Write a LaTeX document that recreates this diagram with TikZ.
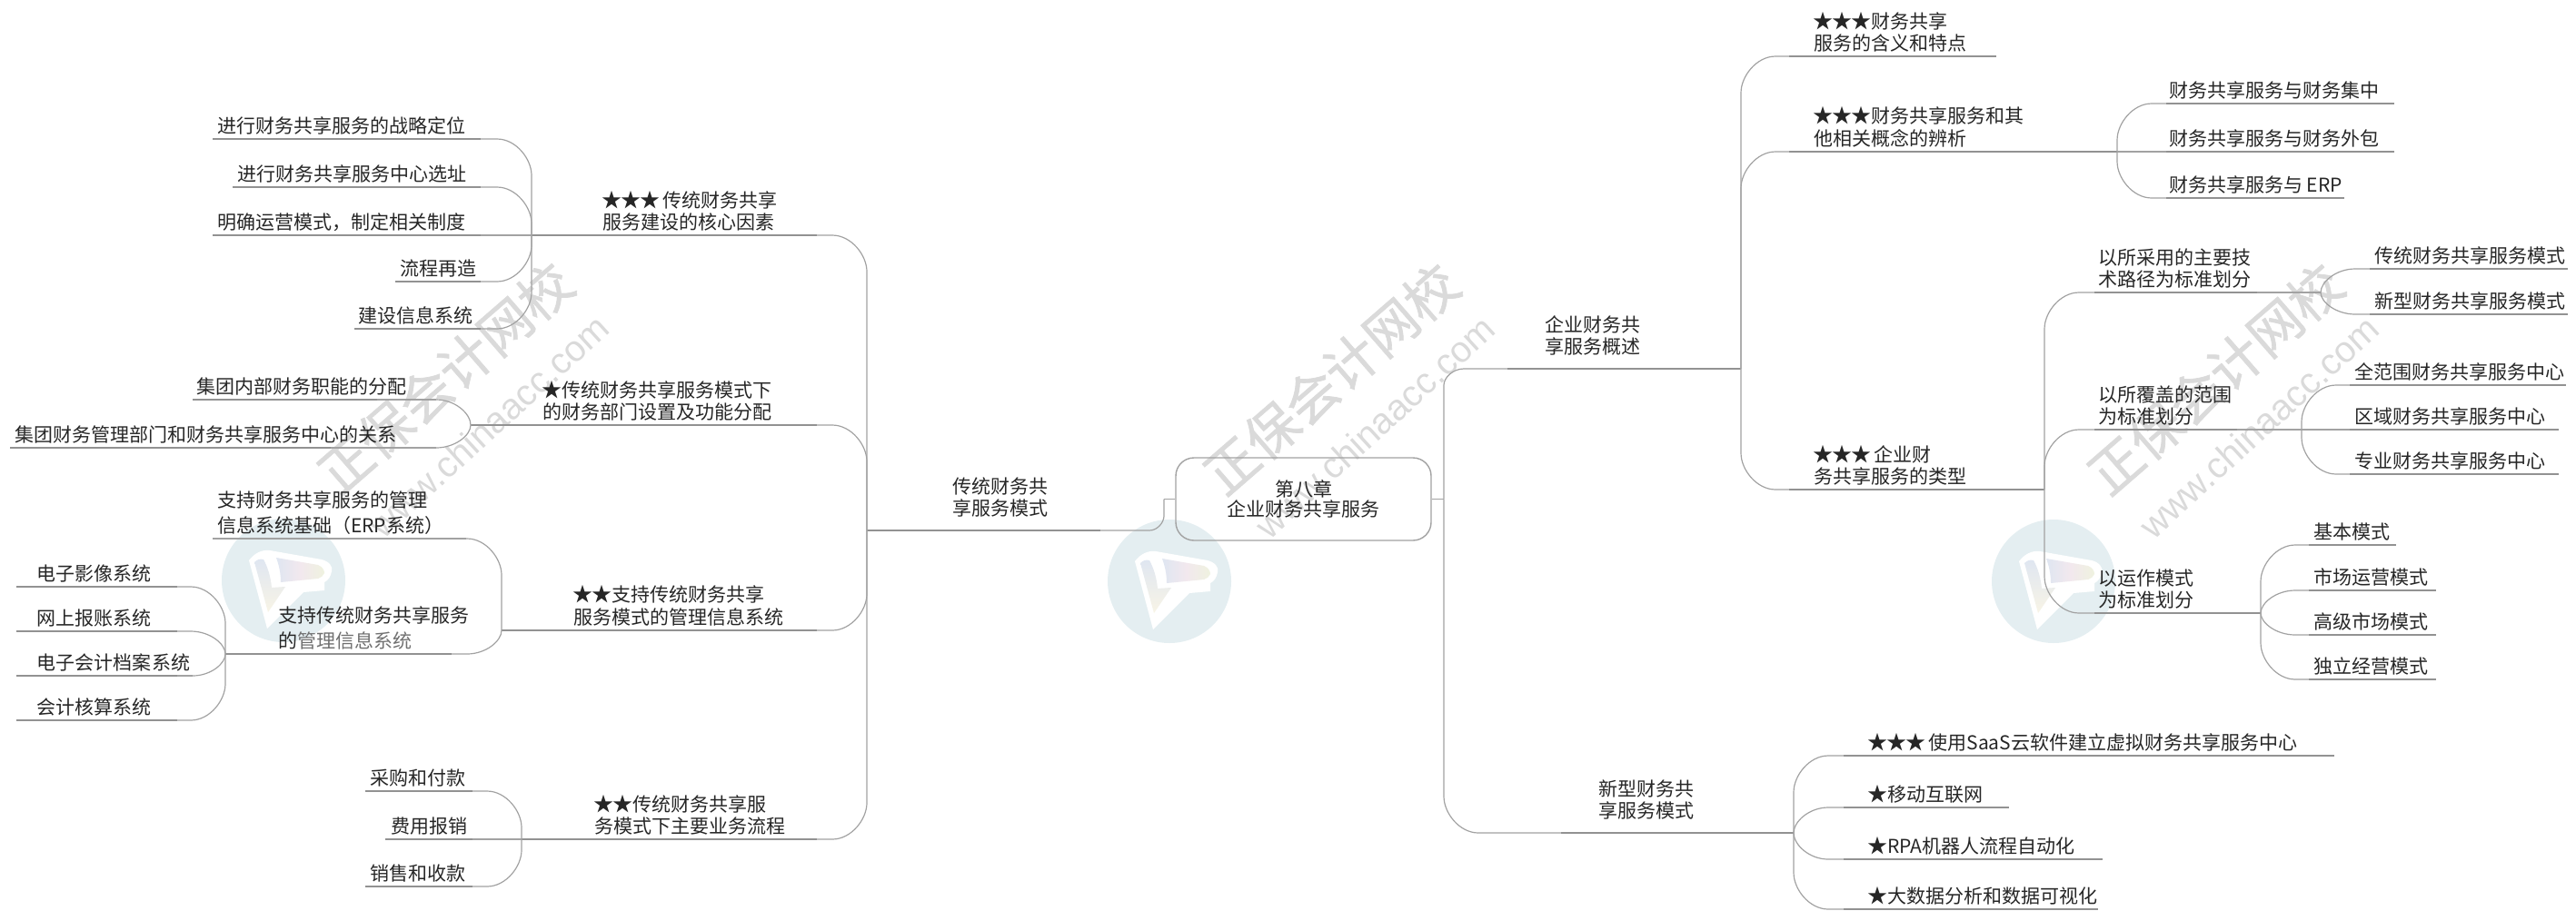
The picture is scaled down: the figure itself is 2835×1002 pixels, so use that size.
\documentclass[tikz,border=0pt]{standalone}
\usepackage{fontspec}
\setmainfont{Noto Sans CJK SC}
\newfontfamily\urlfont{Liberation Sans}
\newfontfamily\wmfont[FakeBold=1.2]{Noto Sans CJK SC}
\usetikzlibrary{calc}
\definecolor{lnthin}{HTML}{A2A2A2}
\definecolor{lnthick}{HTML}{929292}
\definecolor{txtc}{HTML}{262626}
\definecolor{txtfade}{HTML}{707070}
\definecolor{wmgray}{HTML}{DADADA}
\definecolor{wmteal}{HTML}{E4EEF1}
\definecolor{flagblue}{HTML}{DFE6F1}
\definecolor{flagcream}{HTML}{F8F4E6}
\definecolor{flagpink}{HTML}{F2E8EE}
\definecolor{flaggreen}{HTML}{EFF2DF}
\tikzset{
  linkln/.style={draw=lnthin,line width=0.6pt},
  thickln/.style={draw=lnthick,line width=1.2pt},
  topic/.style={inner sep=0pt,outer sep=0pt,text=txtc,font=\fontsize{10.5}{11}\selectfont},
  rootbox/.style={draw=lnthin,line width=0.7pt,rounded corners=10pt,inner sep=0pt,text=txtc,
    minimum width=140.5pt,minimum height=45.5pt,align=center,font=\fontsize{10.5}{11}\selectfont},
  wmbig/.style={inner sep=0pt,text=wmgray,rotate=41,font=\wmfont\fontsize{29}{30}\selectfont},
  wmurl/.style={inner sep=0pt,text=wmgray,rotate=42.5,font=\urlfont\fontsize{20}{22}\selectfont},
}
\newcommand\st{\makebox[10.5pt]{\fontsize{11}{11}\selectfont ★}}
% name, line start x, line end x, thick end x, line y, text x, text
\newcommand\tp[7]{%
  \pgfmathsetmacro\tpw{(#3-#2)*0.5}\pgfmathsetmacro\tpp{(#6-#2)*0.5}%
  \node[topic,anchor=south west] (#1) at (#2,#5)
    {\makebox[\tpw pt][l]{\hspace{\tpp pt}\begin{tabular}[b]{@{}l@{}}#7\end{tabular}}};
  \draw[linkln] (#1.south west) -- (#1.south east);
  \draw[thickln] (#1.south west) -- (#4,#5);
}
\newcommand\elbowr[4]{%
  \draw[linkln] let \p1=(#1),\p2=(#2),
    \n1={sign(\y2-\y1)},\n2={sign(\x2-\x1)},
    \n3={min(#3,abs(\x2-\x1))},\n4={min(#4,abs(\y2-\y1))} in
    (\p1) -- (\x2-\n2*\n3,\y1)
    .. controls (\x2-0.45*\n2*\n3,\y1) and (\x2,\y1+0.55*\n1*\n4) .. (\x2,\y1+\n1*\n4)
    -- (\p2);
}
\newcommand\elbow[2]{\elbowr{#1}{#2}{19pt}{20pt}}
% watermark: name prefix, logo centre
\newcommand\wm[3]{%
  \begin{scope}[shift={(#2,#3)}]
    \fill[wmteal] (0,0) circle[radius=34pt];
    \fill[white] (-38,-22) .. controls (-32,-30) and (-24,-34) .. (-15,-33)
      -- (42,-23) .. controls (50,-21) and (55,-15) .. (53,-10)
      .. controls (52,-4) and (49,0) .. (45,2) -- (45,11) -- (22,13) -- (-18,53) -- cycle;
    \shade[top color=flagblue,bottom color=flagcream]
      (-32,-20) .. controls (-29,-23) and (-26,-24) .. (-22,-23)
      .. controls (-17,-14) and (-14,-3) .. (-13,8) -- (2,7) -- (-17,35) -- cycle;
    \shade[left color=flagblue,right color=flaggreen,middle color=flagpink]
      (-8,-25) -- (38,-17) .. controls (43,-15) and (45,-11) .. (45,-8)
      .. controls (44,-5) and (41,-3) .. (38,-2) -- (-3,2)
      .. controls (-3,-8) and (-5,-17) .. (-8,-25) -- cycle;
    \node[wmbig] (#1big) at (178,-223) {正保会计网校};
    \node[wmurl] (#1url) at (226,-170) {www.chinaacc.com};
  \end{scope}
}
\begin{document}
\begin{tikzpicture}[x=0.5pt,y=-0.5pt]
\useasboundingbox (0,0) rectangle (2835,1002);
\wm{wma}{312}{639}
\wm{wmb}{1287}{640}
\wm{wmc}{2260}{640}

% root
\node[rootbox] (root) at (1434.5,549.5) {第八章\\企业财务共享服务};
\coordinate (rootL) at (1281,549.5);
\coordinate (rootR) at (1589,549.5);
\draw[linkln] (rootL) -- (root.west);
\draw[linkln] (root.east) -- (rootR);

% left main
\tp{nzero}{954}{1211}{1211}{584}{1048}{传统财务共\\享服务模式\\[5pt]}
\elbowr{nzero.south east}{rootL}{8pt}{8pt}

\tp{na}{585}{899}{899}{259}{663}{\st\st\st\,传统财务共享\\服务建设的核心因素}
\tp{nb}{518}{899}{899}{468}{597}{\st 传统财务共享服务模式下\\的财务部门设置及功能分配}
\tp{nc}{552}{899}{899}{694}{631}{\st\st 支持传统财务共享\\服务模式的管理信息系统}
\tp{nd}{574}{899}{899}{924}{654}{\st\st 传统财务共享服\\务模式下主要业务流程}
\elbow{na.south east}{nzero.south west}
\elbow{nb.south east}{nzero.south west}
\elbow{nc.south east}{nzero.south west}
\elbow{nd.south east}{nzero.south west}

\tp{aa}{234}{529}{529}{153}{239}{进行财务共享服务的战略定位}
\tp{ab}{256}{529}{529}{206}{261}{进行财务共享服务中心选址}
\tp{ac}{234}{529}{529}{259}{239}{明确运营模式，制定相关制度}
\tp{ad}{435}{529}{529}{310}{440}{流程再造}
\tp{ae}{390}{529}{529}{362}{394}{建设信息系统}
\elbow{aa.south east}{na.south west}
\elbow{ab.south east}{na.south west}
\draw[linkln] (ac.south east) -- (na.south west);
\elbow{ad.south east}{na.south west}
\elbow{ae.south east}{na.south west}

\tp{ba}{212}{480}{415}{440}{216}{集团内部财务职能的分配}
\tp{bb}{11}{480}{364}{493}{16}{集团财务管理部门和财务共享服务中心的关系}
\elbow{ba.south east}{nb.south west}
\elbow{bb.south east}{nb.south west}

\tp{ca}{234}{513}{234}{593}{239}{支持财务共享服务的管理\\[1.5pt]信息系统基础（ERP系统）}
\tp{cb}{248}{497}{497}{720}{306}{支持传统财务共享服务\\[1.5pt]的\textcolor{txtfade}{管理信息系统}}
\elbow{ca.south east}{nc.south west}
\elbow{cb.south east}{nc.south west}
\tp{da}{18}{195}{195}{646}{41}{电子影像系统}
\tp{db}{18}{195}{195}{695}{41}{网上报账系统}
\tp{dc}{18}{212}{195}{744}{41}{电子会计档案系统}
\tp{dd}{18}{195}{195}{793}{41}{会计核算系统}
\elbow{da.south east}{cb.south west}
\elbow{db.south east}{cb.south west}
\elbow{dc.south east}{cb.south west}
\elbow{dd.south east}{cb.south west}

\tp{ea}{402}{520}{520}{871}{407}{采购和付款}
\tp{eb}{424}{520}{520}{924}{430}{费用报销}
\tp{ec}{402}{520}{520}{976}{407}{销售和收款}
\elbow{ea.south east}{nd.south west}
\draw[linkln] (eb.south east) -- (nd.south west);
\elbow{ec.south east}{nd.south west}

% right main
\tp{pa}{1659}{1916}{1916}{406}{1700}{企业财务共\\享服务概述\\[5pt]}
\tp{pb}{1718}{1974}{1974}{917}{1759}{新型财务共\\享服务模式\\[5pt]}
\elbowr{pa.south west}{rootR}{11pt}{9pt}
\elbow{pb.south west}{rootR}

\tp{ra}{1969}{2197}{2197}{62}{1996}{\st\st\st 财务共享\\服务的含义和特点}
\tp{rb}{1969}{2330}{2330}{167}{1996}{\st\st\st 财务共享服务和其\\他相关概念的辨析}
\tp{rc}{1969}{2250}{2250}{539}{1996}{\st\st\st\,企业财\\务共享服务的类型}
\elbow{ra.south west}{pa.south east}
\elbow{rb.south west}{pa.south east}
\elbow{rc.south west}{pa.south east}

\tp{ua}{2384}{2635}{2635}{114}{2387}{财务共享服务与财务集中}
\tp{ub}{2384}{2635}{2635}{167}{2387}{财务共享服务与财务外包}
\tp{uc}{2384}{2580}{2580}{218}{2387}{财务共享服务与 ERP}
\elbow{ua.south west}{rb.south east}
\draw[linkln] (ub.south west) -- (rb.south east);
\elbow{uc.south west}{rb.south east}

\tp{sa}{2305}{2554}{2484}{322}{2309}{以所采用的主要技\\术路径为标准划分}
\tp{sb}{2305}{2533}{2462}{473}{2309}{以所覆盖的范围\\为标准划分}
\tp{sc}{2305}{2488}{2488}{675}{2309}{以运作模式\\为标准划分}
\elbow{sa.south west}{rc.south east}
\elbow{sb.south west}{rc.south east}
\elbow{sc.south west}{rc.south east}

\tp{va}{2608}{2826}{2826}{296}{2613}{传统财务共享服务模式}
\tp{vb}{2608}{2826}{2826}{346}{2613}{新型财务共享服务模式}
\elbow{va.south west}{sa.south east}
\elbow{vb.south west}{sa.south east}

\tp{wa}{2586}{2824}{2824}{424}{2591}{全范围财务共享服务中心}
\tp{wb}{2586}{2816}{2816}{473}{2591}{区域财务共享服务中心}
\tp{wc}{2586}{2816}{2816}{522}{2591}{专业财务共享服务中心}
\elbow{wa.south west}{sb.south east}
\draw[linkln] (wb.south west) -- (sb.south east);
\elbow{wc.south west}{sb.south east}

\tp{xa}{2541}{2637}{2637}{600}{2546}{基本模式}
\tp{xb}{2541}{2681}{2681}{650}{2546}{市场运营模式}
\tp{xc}{2541}{2681}{2681}{699}{2546}{高级市场模式}
\tp{xd}{2541}{2681}{2681}{748}{2546}{独立经营模式}
\elbow{xa.south west}{sc.south east}
\elbow{xb.south west}{sc.south east}
\elbow{xc.south west}{sc.south east}
\elbow{xd.south west}{sc.south east}

\tp{ta}{2029}{2569}{2569}{832}{2056}{\st\st\st\,使用SaaS云软件建立虚拟财务共享服务中心}
\tp{tb}{2029}{2211}{2211}{889}{2056}{\st 移动互联网}
\tp{tc}{2029}{2314}{2314}{946}{2056}{\st RPA机器人流程自动化}
\tp{td}{2029}{2309}{2309}{1001}{2056}{\st 大数据分析和数据可视化}
\elbow{ta.south west}{pb.south east}
\elbow{tb.south west}{pb.south east}
\elbow{tc.south west}{pb.south east}
\elbow{td.south west}{pb.south east}
\end{tikzpicture}
\end{document}
